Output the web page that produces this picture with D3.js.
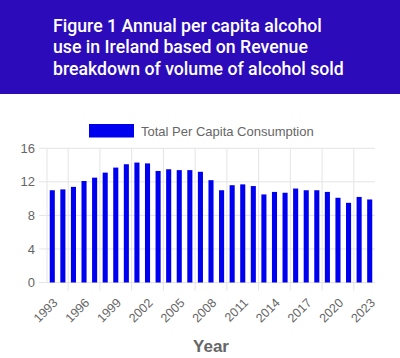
<!DOCTYPE html>
<html>
<head>
<meta charset="utf-8">
<script src="https://cdn.jsdelivr.net/npm/d3@7"></script>
<style>
  body { margin: 0; background: #fff; }
  svg { display: block; }
</style>
</head>
<body>
<svg id="chart" width="400" height="358"></svg>
<script>
// data
let years = d3.range(1993, 2024).map(String);
let consumption = [11.0, 11.1, 11.4, 12.1, 12.5, 13.1, 13.7, 14.1, 14.3, 14.2,
                   13.3, 13.5, 13.4, 13.4, 13.2, 12.2, 11.0, 11.6, 11.7, 11.5,
                   10.5, 10.8, 10.7, 11.2, 11.0, 11.0, 10.8, 10.1, 9.5, 10.2, 9.9];
let yTicks = [0, 4, 8, 12, 16];
let titleLines = ["Figure 1 Annual per capita alcohol",
                  "use in Ireland based on Revenue",
                  "breakdown of volume of alcohol sold"];
let seriesName = "Total Per Capita Consumption";

let width = 400;
let height = 358;
let plotLeft = 47, plotRight = 375, plotTop = 148.3, plotBottom = 282.5;
let barColor = "#0000f0";
let grey = "#666";
let gridColor = "#e4e4e4";

let svg = d3.select("#chart");

// title banner
svg.append("rect")
    .attr("x", 0).attr("y", 0)
    .attr("width", width).attr("height", 94)
    .attr("fill", "#2b0bba");

svg.selectAll(".title-line")
    .data(titleLines)
    .enter().append("text")
    .attr("class", "title-line")
    .attr("x", 53)
    .attr("y", (d, i) => 31.5 + i * 21.5)
    .attr("fill", "#fff")
    .style("font-family", "Roboto, sans-serif")
    .style("font-weight", 500)
    .style("font-size", "17.7px")
    .text(d => d);

let x = d3.scaleBand().domain(years).range([plotLeft, plotRight]).padding(0);
let y = d3.scaleLinear().domain([0, 16]).range([plotBottom, plotTop]);
let bw = x.bandwidth();

// horizontal grid + tick marks
svg.selectAll(".hgrid")
    .data(yTicks)
    .enter().append("line")
    .attr("class", "hgrid")
    .attr("x1", plotLeft - 8).attr("x2", plotRight)
    .attr("y1", d => y(d)).attr("y2", d => y(d))
    .style("stroke", gridColor)
    .style("stroke-width", 1);

// vertical grid lines sit halfway between shown ticks (every 3rd year)
let shown = years.filter((d, i) => i % 3 == 0);
let vLines = shown.slice(1).map(d => x(d) + bw / 2 - 1.5 * bw);
svg.selectAll(".vgrid")
    .data(vLines)
    .enter().append("line")
    .attr("class", "vgrid")
    .attr("x1", d => d).attr("x2", d => d)
    .attr("y1", plotTop).attr("y2", plotBottom + 8)
    .style("stroke", gridColor)
    .style("stroke-width", 1);

// left border
svg.append("line")
    .attr("x1", plotLeft).attr("x2", plotLeft)
    .attr("y1", plotTop).attr("y2", plotBottom)
    .style("stroke", gridColor)
    .style("stroke-width", 1);

// y labels
svg.selectAll(".ylab")
    .data(yTicks)
    .enter().append("text")
    .attr("class", "ylab")
    .attr("x", plotLeft - 12)
    .attr("y", d => y(d))
    .attr("dy", "0.35em")
    .attr("text-anchor", "end")
    .attr("fill", grey)
    .style("font-family", "'Liberation Sans', Arial, sans-serif")
    .style("font-size", "13px")
    .text(d => d);

// bars
let barW = bw * 0.48;
svg.selectAll(".bar")
    .data(consumption)
    .enter().append("rect")
    .attr("class", "bar")
    .attr("x", (d, i) => x(years[i]) + (bw - barW) / 2)
    .attr("y", d => y(d))
    .attr("width", barW)
    .attr("height", d => y(0) - y(d))
    .attr("fill", barColor);

// x labels, rotated
svg.selectAll(".xlab")
    .data(shown)
    .enter().append("text")
    .attr("class", "xlab")
    .attr("transform", d => "translate(" + (x(d) + bw / 2 + 3) + "," + (plotBottom + 18) + ") rotate(-45)")
    .attr("text-anchor", "end")
    .attr("dy", "0.35em")
    .attr("fill", grey)
    .style("font-family", "'Liberation Sans', Arial, sans-serif")
    .style("font-size", "12.5px")
    .text(d => d);

// axis title
svg.append("text")
    .attr("x", (plotLeft + plotRight) / 2)
    .attr("y", 352)
    .attr("text-anchor", "middle")
    .attr("fill", grey)
    .style("font-family", "'Liberation Sans', Arial, sans-serif")
    .style("font-weight", "bold")
    .style("font-size", "17px")
    .text("Year");

// legend
svg.append("rect")
    .attr("x", 89).attr("y", 124)
    .attr("width", 45).attr("height", 13.5)
    .attr("fill", barColor);

svg.append("text")
    .attr("x", 141)
    .attr("y", 135.5)
    .attr("fill", grey)
    .style("font-family", "'Liberation Sans', Arial, sans-serif")
    .style("font-size", "13px")
    .text(seriesName);
</script>
</body>
</html>
